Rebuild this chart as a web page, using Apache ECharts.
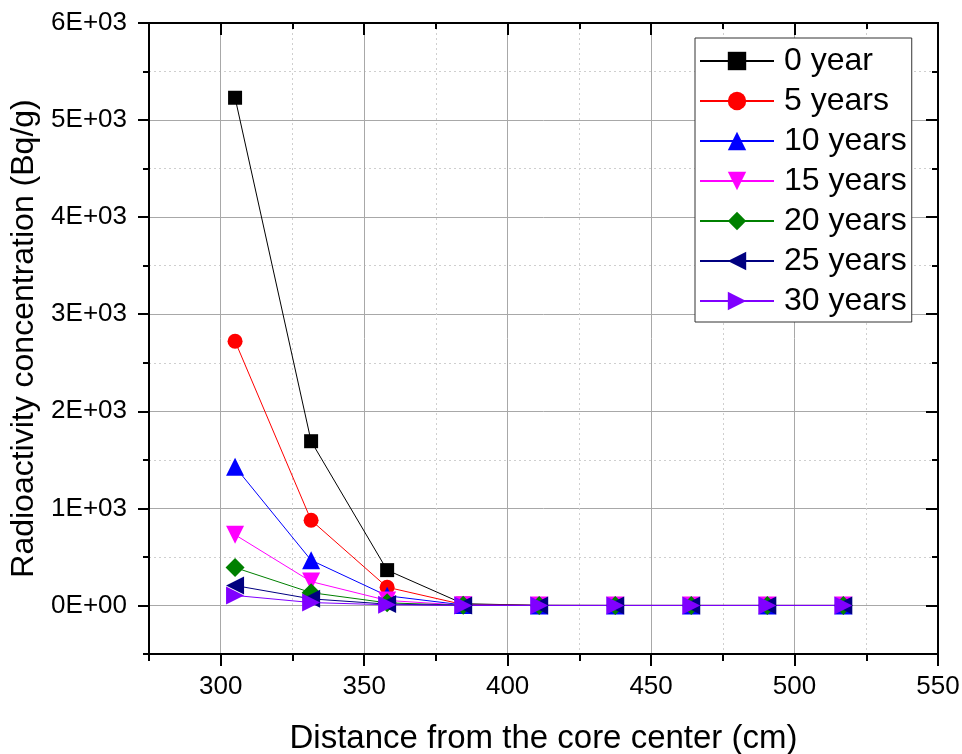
<!DOCTYPE html>
<html>
<head>
<meta charset="utf-8">
<script src="https://cdn.jsdelivr.net/npm/echarts@6/dist/echarts.min.js"></script>
<style>
    html, body { margin: 0; padding: 0; background: #fff; }
    #chart { width: 962px; height: 754px; }
</style>
</head>
<body>
<div id="chart"></div>
<script>
// distance from core center (cm)
var distances = [305, 331.5, 358, 384.5, 411, 437.5, 464, 490.5, 517];

// radioactivity concentration (Bq/g) per cooling time
var year0 = [5230, 1692, 364, 18, 1, 0, 0, 0, 0];
var year5 = [2722, 878, 188, 9, 0.5, 0, 0, 0, 0];
var year10 = [1428, 466, 100, 5, 0.3, 0, 0, 0, 0];
var year15 = [728, 246, 52, 2.5, 0.1, 0, 0, 0, 0];
var year20 = [390, 132, 27, 1.3, 0.1, 0, 0, 0, 0];
var year25 = [205, 68, 14, 0.7, 0, 0, 0, 0, 0];
var year30 = [103, 30, 7, 0.35, 0, 0, 0, 0, 0];

var seriesNames = ["0 year", "5 years", "10 years", "15 years", "20 years", "25 years", "30 years"];

// tick positions
var xMajorTicks = [300, 350, 400, 450, 500, 550];
var xMinorTicks = [275, 325, 375, 425, 475, 525];
var yMajorTicks = [0, 1000, 2000, 3000, 4000, 5000, 6000];
var yMinorTicks = [-500, 500, 1500, 2500, 3500, 4500, 5500];

var font = "'Liberation Sans', Arial, sans-serif";

var styles = [
    { color: "#000000", symbol: "rect", size: 14, rotate: 0 },
    { color: "#ff0000", symbol: "circle", size: 15, rotate: 0 },
    { color: "#0000ff", symbol: "triangle", size: 18, rotate: 0 },
    { color: "#ff00ff", symbol: "triangle", size: 18, rotate: 180 },
    { color: "#008000", symbol: "diamond", size: 19, rotate: 0 },
    { color: "#000080", symbol: "triangle", size: 18, rotate: 90 },
    { color: "#8000ff", symbol: "triangle", size: 18, rotate: -90 }
];

function pairs(ys) {
    return distances.map(function(x, i) { return [x, ys[i]]; });
}

function yLabel(v) {
    if (v === 0) return "0E+00";
    return (v / 1000) + "E+03";
}

function makeAxis(dim, position, ticks, tickLen, inside, showLabel, split) {
    var axis = {
        type: "value",
        position: position,
        min: dim === "x" ? 275 : -500,
        max: dim === "x" ? 550 : 6000,
        axisLine: { show: true, onZero: false, lineStyle: { color: "#000", width: 2 } },
        axisTick: {
            show: true,
            inside: inside,
            length: tickLen,
            customValues: ticks,
            lineStyle: { color: "#000", width: 2 }
        },
        axisLabel: { show: false },
        splitLine: { show: false }
    };
    if (showLabel) {
        axis.axisLabel = {
            show: true,
            customValues: ticks,
            color: "#000",
            fontSize: 26,
            fontFamily: font,
            margin: dim === "x" ? 20 : 22,
            formatter: dim === "x" ? "{value}" : yLabel
        };
    }
    if (split === "major") {
        axis.splitLine = { show: true, lineStyle: { color: "#a8a8a8", width: 1, type: "solid" } };
    } else if (split === "minor") {
        axis.splitLine = { show: true, lineStyle: { color: "#cfcfcf", width: 1, type: [2, 3] } };
    }
    return axis;
}

var allData = [year0, year5, year10, year15, year20, year25, year30];
var series = allData.map(function(ys, i) {
    var s = styles[i];
    return {
        name: seriesNames[i],
        type: "line",
        data: pairs(ys),
        symbol: s.symbol,
        symbolSize: s.size,
        symbolRotate: s.rotate,
        showAllSymbol: true,
        lineStyle: { color: s.color, width: 1 },
        itemStyle: { color: s.color },
        animation: false
    };
});

var chart = echarts.init(document.getElementById("chart"));
var option = {
    backgroundColor: "#fff",
    animation: false,
    grid: { left: 149, right: 24, top: 23, bottom: 100, containLabel: false, outerBoundsMode: "none" },
    legend: {
        left: 695,
        top: 38,
        orient: "vertical",
        backgroundColor: "#fff",
        borderColor: "#333",
        borderWidth: 1,
        borderRadius: 0,
        padding: [7, 5, 5, 4],
        itemWidth: 74,
        itemHeight: 23,
        itemGap: 8,
        textStyle: { color: "#000", fontSize: 32, fontFamily: font, lineHeight: 32, padding: [0, 0, 0, 5] },
        data: seriesNames
    },
    xAxis: [
        Object.assign(makeAxis("x", "bottom", xMajorTicks, 12, false, true, "major"), {
            name: "Distance from the core center (cm)",
            nameLocation: "middle",
            nameGap: 68,
            nameTextStyle: { color: "#000", fontSize: 33, fontFamily: font }
        }),
        makeAxis("x", "bottom", xMinorTicks, 7, false, false, "minor"),
        makeAxis("x", "top", xMajorTicks, 12, true, false, null),
        makeAxis("x", "top", xMinorTicks, 6, true, false, null)
    ],
    yAxis: [
        Object.assign(makeAxis("y", "left", yMajorTicks, 11, false, true, "major"), {
            name: "Radioactivity concentration (Bq/g)",
            nameLocation: "middle",
            nameGap: 108,
            nameTextStyle: { color: "#000", fontSize: 32, fontFamily: font }
        }),
        makeAxis("y", "left", yMinorTicks, 6, false, false, "minor"),
        makeAxis("y", "right", yMajorTicks, 12, true, false, null),
        makeAxis("y", "right", yMinorTicks, 6, true, false, null)
    ],
    series: series
};
chart.setOption(option);
</script>
</body>
</html>
